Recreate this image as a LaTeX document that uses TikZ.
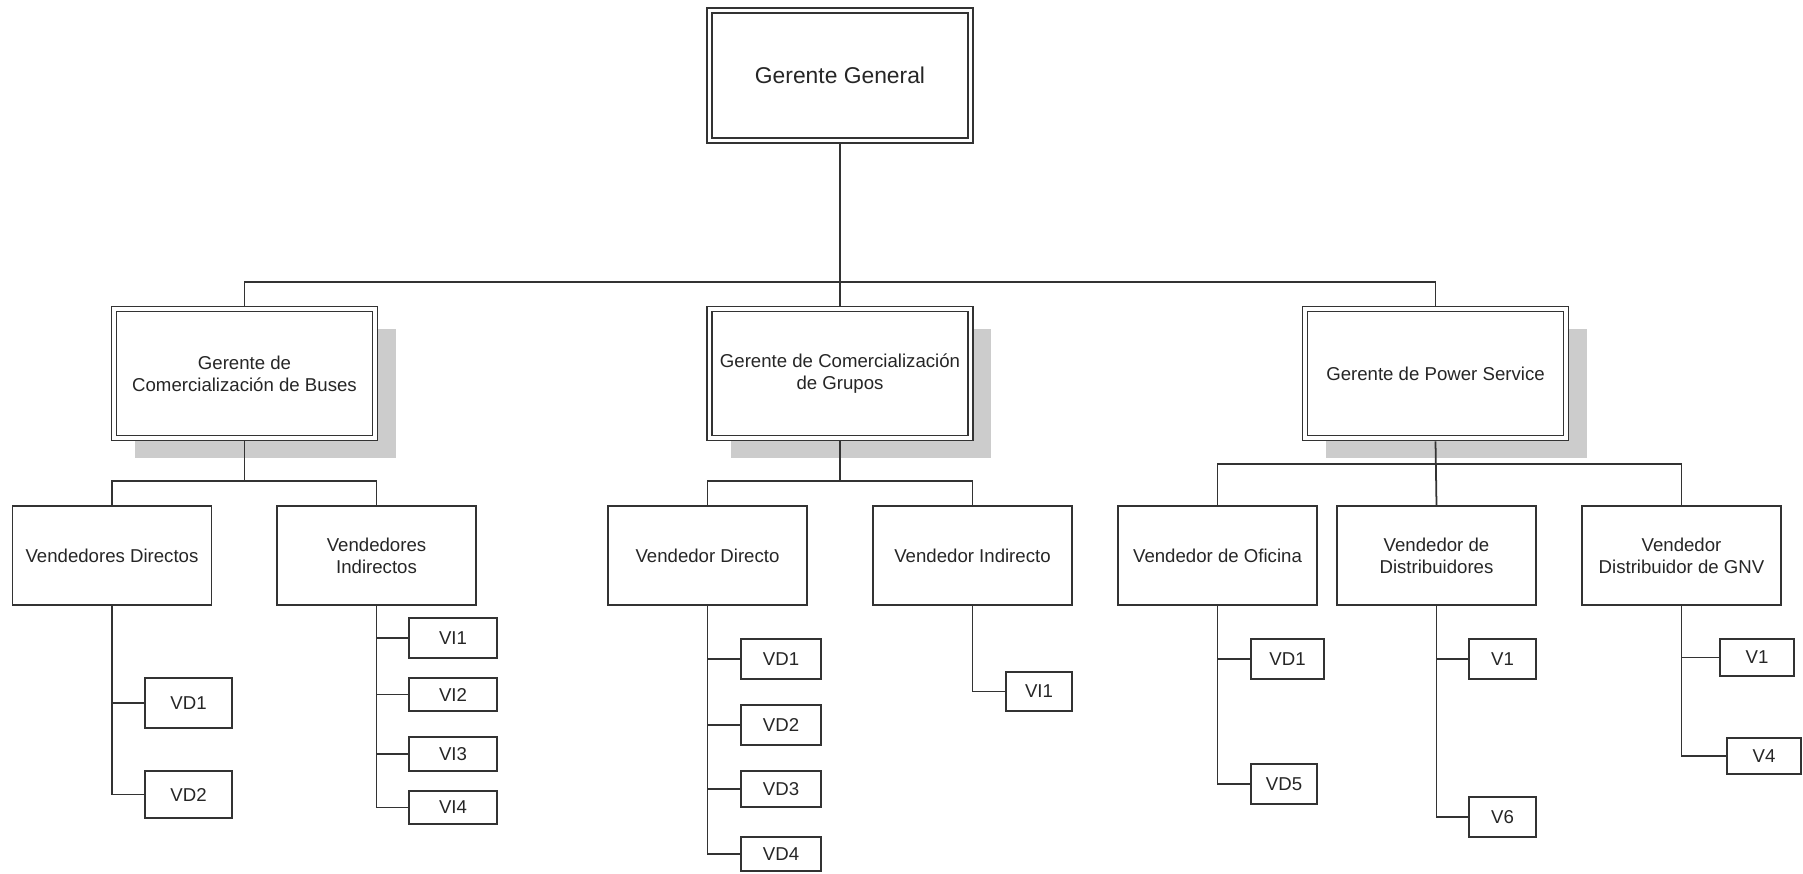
\documentclass[tikz,border=0pt]{standalone}
\usepackage{fontspec}
\setmainfont{Liberation Sans}
\usetikzlibrary{positioning,shadows}
\definecolor{linea}{gray}{0.2}
\definecolor{letra}{gray}{0.15}

\begin{document}
\begin{tikzpicture}[x=0.02cm, y=-0.02cm,
  every node/.style={text=letra, font=\fontsize{10.6}{12.4}\selectfont, align=center},
  jefe/.style={draw=linea, line width=1pt, double, double distance=1.8pt, outer sep=1.9pt,
    fill=white, minimum width=5.22cm, minimum height=2.6cm},
  gerencia/.style={jefe, minimum height=2.58cm,
    drop shadow={shadow xshift=0.42cm, shadow yshift=-0.4cm, fill=black!20, opacity=1}},
  puesto/.style={draw=linea, line width=1pt, fill=white, minimum width=3.98cm, minimum height=1.98cm},
  hoja/.style={draw=linea, line width=1pt, fill=white, minimum height=0.8cm, inner sep=1pt},
  rama/.style={draw=linea, line width=1pt}]
  \useasboundingbox (0,0) rectangle (1803,873);

  \node[jefe, font=\fontsize{13}{15}\selectfont] (gg) at (840,75.5) {Gerente General};

  \node[gerencia] (gcb) at (244.5,373.5) {Gerente de\\Comercialización de Buses};
  \node[gerencia] (gcg) at (840,373.5) {Gerente de Comercialización\\de Grupos};
  \node[gerencia] (gps) at (1435.5,373.5) {Gerente de Power Service};

  \node[puesto] (vdb) at (112,555.5) {Vendedores Directos};
  \node[puesto] (vib) at (376.5,555.5) {Vendedores\\Indirectos};
  \node[puesto] (vdg) at (707.5,555.5) {Vendedor Directo};
  \node[puesto] (vig) at (972.5,555.5) {Vendedor Indirecto};
  \node[puesto] (vof) at (1217.5,555.5) {Vendedor de Oficina};
  \node[puesto] (vdi) at (1436.5,555.5) {Vendedor de\\Distribuidores};
  \node[puesto] (vgnv) at (1681.5,555.5) {Vendedor\\Distribuidor de GNV};

  % buses
  \node[hoja, minimum width=1.74cm, minimum height=1cm] (vd1b) at (188.5,703) {VD1};
  \node[hoja, minimum width=1.74cm, minimum height=0.94cm] (vd2b) at (188.5,794.5) {VD2};
  \node[hoja, minimum width=1.76cm] (vi1b) at (453,638) {VI1};
  \node[hoja, minimum width=1.76cm, minimum height=0.66cm] (vi2b) at (453,694.5) {VI2};
  \node[hoja, minimum width=1.76cm, minimum height=0.68cm] (vi3b) at (453,754) {VI3};
  \node[hoja, minimum width=1.76cm, minimum height=0.66cm] (vi4b) at (453,807.5) {VI4};

  % grupos
  \node[hoja, minimum width=1.6cm] (vd1g) at (781,659) {VD1};
  \node[hoja, minimum width=1.6cm] (vd2g) at (781,725) {VD2};
  \node[hoja, minimum width=1.6cm, minimum height=0.72cm] (vd3g) at (781,789) {VD3};
  \node[hoja, minimum width=1.6cm, minimum height=0.68cm] (vd4g) at (781,854) {VD4};
  \node[hoja, minimum width=1.32cm, minimum height=0.78cm] (vi1g) at (1039,691.5) {VI1};

  % power service
  \node[hoja, minimum width=1.46cm] (vd1p) at (1287.5,659) {VD1};
  \node[hoja, minimum width=1.32cm] (vd5p) at (1284,784) {VD5};
  \node[hoja, minimum width=1.34cm] (v1d) at (1502.5,659) {V1};
  \node[hoja, minimum width=1.34cm] (v6d) at (1502.5,817) {V6};
  \node[hoja, minimum width=1.48cm, minimum height=0.74cm] (v1n) at (1757,657.5) {V1};
  \node[hoja, minimum width=1.48cm, minimum height=0.72cm] (v4n) at (1764,756) {V4};

  \coordinate (bus) at (840,282);
  \draw[rama] (gg.south) -- (bus) -| (gcb.north);
  \draw[rama] (bus) -| (gps.north);
  \draw[rama] (bus) -- (gcg.north);

  \coordinate (sbb) at (244.5,481);
  \coordinate (sbg) at (840,481);
  \coordinate (sbp) at (1435.5,464);
  \draw[rama] (gcb.south) -- (sbb);
  \draw[rama] (vdb.north) |- (sbb) -| (vib.north);
  \draw[rama] (gcg.south) -- (sbg);
  \draw[rama] (vdg.north) |- (sbg) -| (vig.north);
  \draw[rama] (gps.south) -- (vdi.north);
  \draw[rama] (vof.north) |- (sbp) -| (vgnv.north);

  \draw[rama] (vdb.south) |- (vd1b.west);
  \draw[rama] (vdb.south) |- (vd2b.west);
  \draw[rama] (vib.south) |- (vi1b.west);
  \draw[rama] (vib.south) |- (vi2b.west);
  \draw[rama] (vib.south) |- (vi3b.west);
  \draw[rama] (vib.south) |- (vi4b.west);

  \draw[rama] (vdg.south) |- (vd1g.west);
  \draw[rama] (vdg.south) |- (vd2g.west);
  \draw[rama] (vdg.south) |- (vd3g.west);
  \draw[rama] (vdg.south) |- (vd4g.west);
  \draw[rama] (vig.south) |- (vi1g.west);

  \draw[rama] (vof.south) |- (vd1p.west);
  \draw[rama] (vof.south) |- (vd5p.west);
  \draw[rama] (vdi.south) |- (v1d.west);
  \draw[rama] (vdi.south) |- (v6d.west);
  \draw[rama] (vgnv.south) |- (v1n.west);
  \draw[rama] (vgnv.south) |- (v4n.west);
\end{tikzpicture}
\end{document}
